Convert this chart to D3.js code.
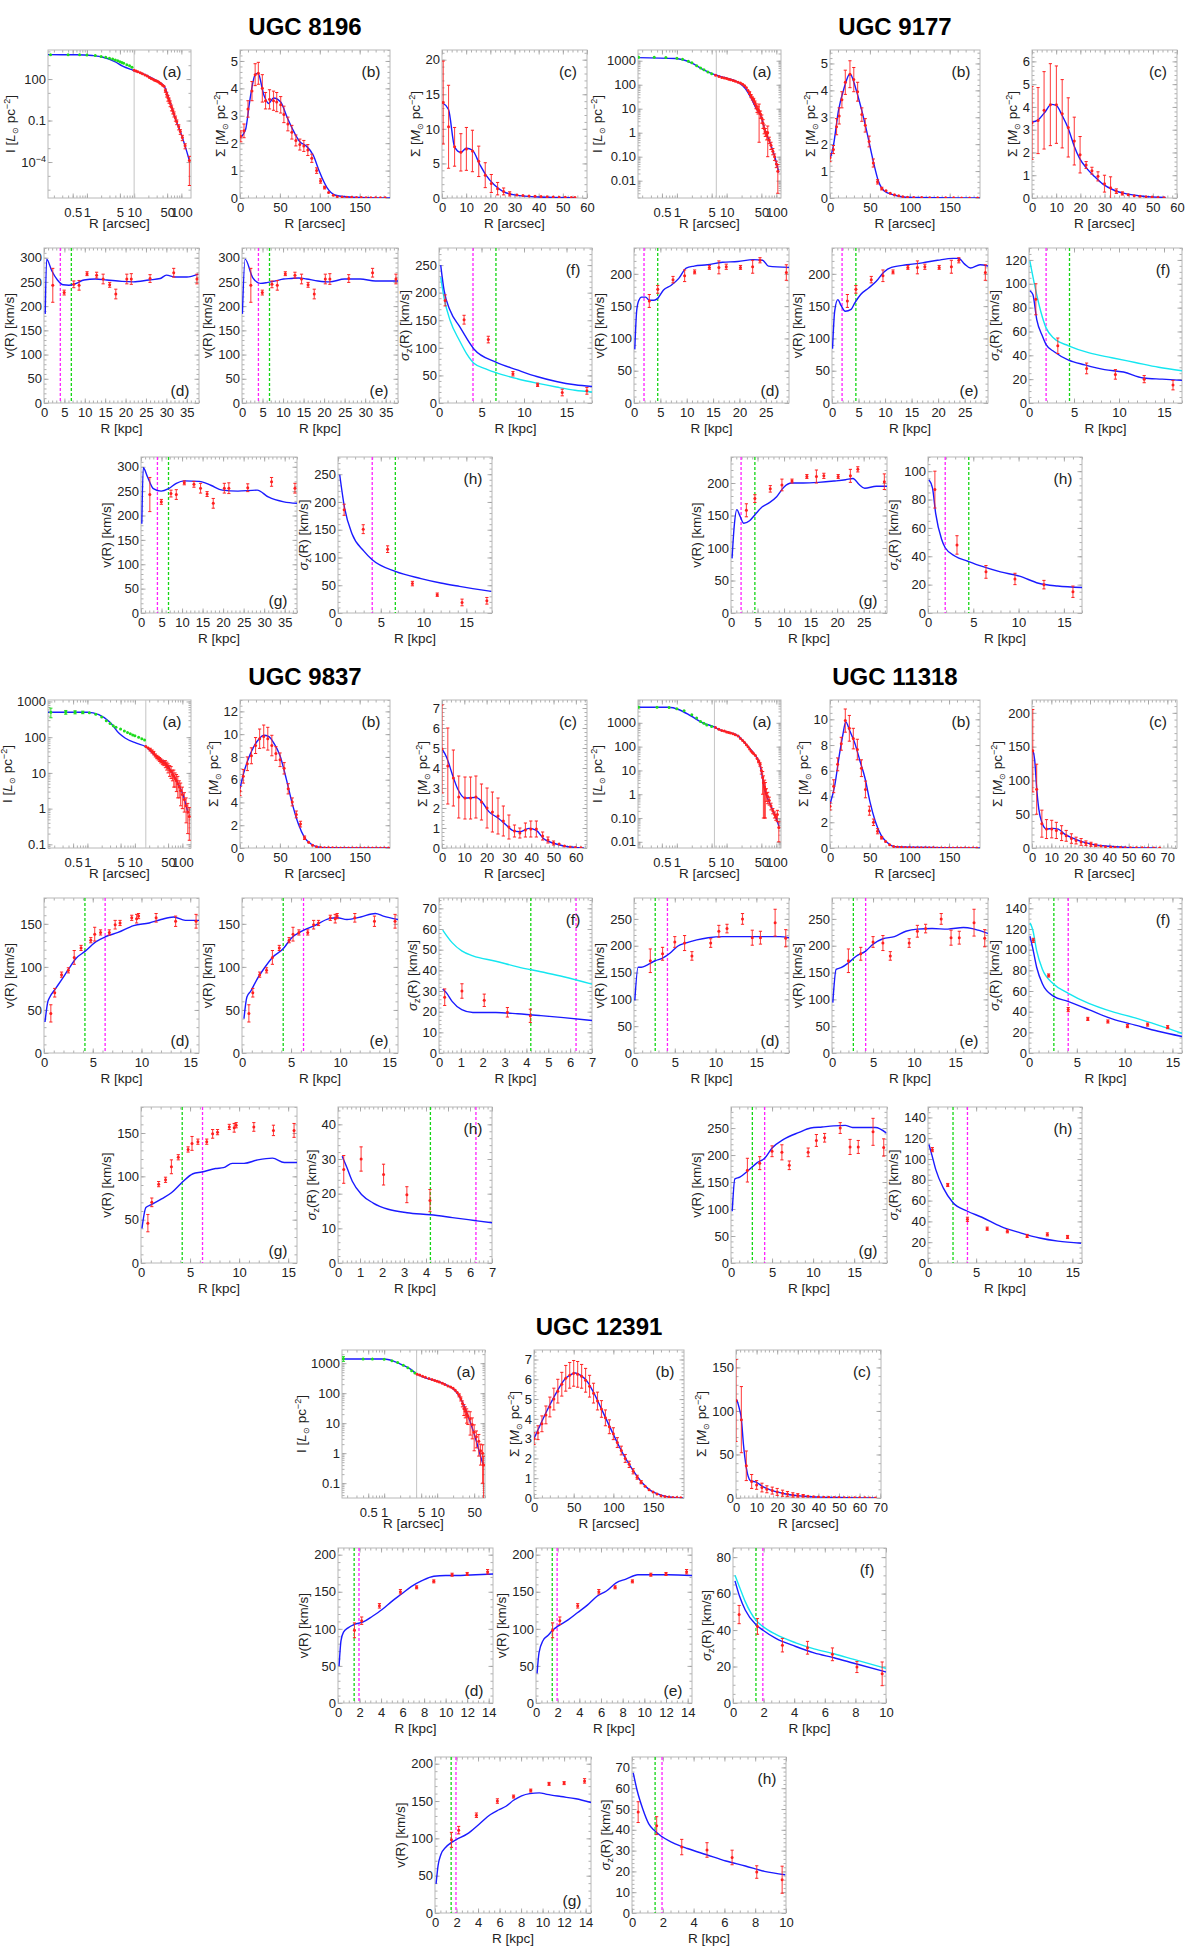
<!DOCTYPE html>
<html>
<head>
<meta charset="utf-8">
<script src="https://cdn.jsdelivr.net/npm/d3@7"></script>
<style>
  body { margin: 0; background: #fff; }
  svg text { font-family: "Liberation Sans", Arial, Helvetica, sans-serif; }
</style>
</head>
<body>
<svg id="fig" width="1200" height="1950"></svg>
<script>
// ---------------- data ----------------
// rows: [R, value, error]   fits: [R, value]

// UGC 8196
const u8196_Igreen = [[0.17,5800,300],[0.4,5800,200],[0.7,5700,150],[1.0,5500,150],[1.5,5000,120],[2,4300,100],[2.5,3700,100],[3,3200,90],[3.5,2800,80],[4,2400,70],[4.5,2100,60],[5,1800,50],[5.5,1600,50],[6,1400,40],[7,1100,35],[8,900,30],[9,700,25]];
const u8196_Ired = [[10,430,15],[11,380,15],[12,330,12],[13.5,280,10],[15,240,10],[17,200,10],[19,165,8],[21,130,8],[23,110,6],[25,95,6],[27,82,6],[29,75,6],[31,68,6],[33,60,6],[35,52,6],[37,45,5],[40,36,5],[43,30,4],[46,15,4],[49,8,3],[52,4.5,2],[55,3,1.2],[58,1.8,0.8],[62,0.9,0.4],[66,0.5,0.2],[70,0.3,0.12],[75,0.15,0.06],[80,0.08,0.03],[88,0.035,0.014],[95,0.016,0.006],[105,0.006,0.0025],[120,0.0015,0.0006],[148,1.3e-4,1.28e-4]];
const u8196_Ifit = [[0.15,5800],[0.6,5750],[1.3,5000],[2.2,3800],[3.9,1800],[5.7,850],[9.5,430],[17,210],[30,76],[43,32],[57,2.4],[75,0.13],[100,0.01],[148,1.3e-4]];
const u8196_SBpts = [[1,2.25,0.2],[5,2.45,0.25],[10,3.25,0.3],[15,3.9,0.35],[19,4.5,0.4],[23,4.55,0.4],[28,4.0,0.5],[32,3.55,0.3],[37,3.6,0.35],[42,3.55,0.35],[46,3.5,0.35],[51,3.4,0.3],[55,3.05,0.3],[60,2.7,0.25],[65,2.4,0.25],[70,2.1,0.2],[75,1.95,0.2],[80,1.9,0.2],[85,1.75,0.2],[90,1.45,0.15],[96,1.0,0.1],[101,0.62,0.08],[106,0.38,0.05],[111,0.2,0.03],[117,0.1,0.02],[122,0.05,0.01],[128,0.04,0],[134,0.03,0],[140,0.025,0],[146,0.02,0],[152,0.015,0],[158,0.012,0],[164,0.01,0],[170,0.008,0],[176,0.006,0],[182,0.005,0]];
const u8196_SBfit = [[0,2.2],[7,2.5],[12,3.5],[19,4.5],[22.5,4.55],[30,3.75],[36,3.45],[42,3.65],[51,3.5],[59,2.95],[67,2.45],[75,2.05],[83,1.9],[92,1.55],[99,1.0],[109,0.38],[120,0.1],[140,0.03],[188,0]];
const u8196_SCpts = [[0.5,13.8,6],[2.7,10.3,6],[5.2,7.4,2.8],[7.8,6.6,2.7],[10.1,7.1,3.1],[12.6,6.8,3],[15.2,5.3,2.2],[17.9,3.3,1.8],[20.4,2.1,1.3],[23,1.35,0.9],[25.5,0.95,0.5],[28,0.6,0.3],[31,0.45,0.15],[33.5,0.35,0.1],[36,0.3,0],[38.5,0.25,0],[41,0.2,0],[43.5,0.18,0],[46,0.15,0],[48.5,0.12,0],[51,0.1,0],[53.5,0.08,0],[55,0.06,0]];
const u8196_SCfit = [[0,13.8],[2.7,12.8],[5.2,7.4],[7.8,6.6],[10.1,7.2],[12.6,6.9],[15.7,4.8],[18.2,3.3],[21.6,1.9],[25,1.0],[30,0.45],[40,0.15],[55,0.05]];
const u8196_v = [[2.15,243,35],[4.95,228,5],[7.3,245,7],[8.6,243,10],[10.55,267,4],[12.9,264,6],[14.5,256,10],[16.1,244,5],[17.6,225,10],[20.3,256,10],[21.4,256,11],[26,257,8],[31.8,269,9],[37.5,256,10]];
const u8196_vD = [[0.3,184],[0.65,297],[1.9,273],[3.3,254],[4.7,244],[6.1,243],[7.9,247],[9.8,254],[12.6,256],[15.4,254],[19.1,251],[21.9,250],[25.7,254],[28.5,257],[30,264],[32.2,260],[35,260],[37.8,266]];
const u8196_vE = [[0.1,184],[0.75,297],[2.6,259],[4.5,247],[6.3,249],[8.2,252],[10.1,256],[12,257],[13.8,258],[15.7,256],[18.5,252],[21.3,250],[25,256],[28.8,256],[32.5,252],[38,252]];
const u8196_vG = [[0.2,183],[0.55,298],[1.6,279],[3,255],[4.9,250],[6.7,255],[8.6,266],[10.5,271],[14.2,270],[17,262],[19.8,252],[23.6,250],[28.3,252],[31,238],[34.8,228],[38,225]];
const u8196_s = [[0.72,186,10],[2.95,151,8],[5.8,115,6],[8.7,53,4],[11.6,33,3],[14.5,19,6],[17.4,22,6]];
const u8196_sF = [[0.2,250],[0.6,204],[1.3,168],[2.45,138],[4.1,98],[6.7,74],[9.2,60],[11.5,48],[13.8,39],[16,33],[18,30]];
const u8196_sFc = [[0.2,228],[0.6,190],[1.3,150],[2.45,112],[3.3,88],[4.1,72],[5.5,62],[6.7,55],[9.2,44],[11.5,36],[13.8,29],[16,23],[18,20]];
const u8196_sH = [[0.2,249],[0.76,190],[1.66,142],[3,112],[4,96],[6.7,75],[9.7,62],[12,54],[14.2,48],[17.9,39]];

// UGC 9177
const u9177_Igreen = [[0.17,1400,60],[0.35,1380,50],[0.6,1350,40],[1.0,1280,40],[1.3,1150,35],[1.7,950,30],[2.0,820,25],[2.5,620,20],[3.0,500,15],[3.5,420,12],[4.2,340,10],[5,290,8]];
const u9177_Ired = [[6,250,8],[7,220,8],[8,200,8],[9,190,8],[10,180,8],[11,170,8],[12,160,8],[13.5,150,8],[15,140,8],[17,128,8],[19,118,8],[21,105,8],[23,90,8],[25,75,8],[27,58,6],[29,45,6],[31,34,5],[33,27,4],[35,23,4],[37,18,3],[39,13,3],[41,10,3],[43,9,3],[45,8,7.6],[48,6,2],[51,4,1.5],[54,2.5,1],[57,1.5,0.6],[60,1.1,0.4],[64,0.8,0.3],[67,1.0,0.9],[72,0.5,0.15],[78,0.3,0.1],[85,0.17,0.05],[92,0.1,0.03],[100,0.05,0.015],[107,0.025,0.022]];
const u9177_Ifit = [[0.165,1350],[0.95,1230],[1.95,810],[3.3,436],[5.75,263],[9.8,190],[17,126],[24,68],[31.6,26],[40,9.5],[48,5.5],[59,1.3],[78,0.3],[93,0.1],[112,0.022]];
const u9177_SBpts = [[0,1.5,0.15],[4.3,1.8,0.15],[8.2,2.65,0.3],[11.5,3.05,0.3],[14.9,3.65,0.3],[19.2,4.3,0.45],[25,4.6,0.5],[29.8,4.4,0.45],[34.6,3.95,0.35],[39.9,3.1,0.25],[44.2,2.7,0.25],[49,2.1,0.2],[54.3,1.3,0.15],[59.6,0.6,0.08],[64.9,0.35,0.05],[70.2,0.27,0.04],[75.5,0.18,0.03],[80.8,0.12,0.02],[86.1,0.08,0],[91.3,0.05,0],[97.1,0.03,0],[105,0.02,0],[115,0.015,0],[125,0.01,0],[135,0.008,0],[145,0.006,0],[155,0.005,0],[165,0.004,0],[175,0.003,0],[185,0.002,0]];
const u9177_SBfit = [[0,1.45],[4.3,1.95],[10.6,3.25],[17.8,4.1],[25,4.62],[32,4.1],[39.4,3.3],[46.6,2.4],[53.8,1.42],[61,0.6],[68,0.26],[80,0.11],[95,0.03],[189,0]];
const u9177_SCpts = [[0,3.3,1.6],[2.5,3.4,1.45],[5,3.85,1.7],[7.6,4.1,1.8],[10.1,4.1,1.7],[12.5,3.7,1.5],[15,3.1,1.3],[17.5,2.5,1.05],[19.9,1.9,0.8],[22.4,1.45,0.15],[24.8,1.2,0.15],[27.3,0.95,0.2],[30,0.63,0.37],[32.5,0.45,0.48],[34.9,0.3,0.1],[37.4,0.2,0.07],[39.8,0.14,0.05],[42.3,0.1,0.03],[44.7,0.08,0.02],[47.2,0.06,0.02],[49.7,0.04,0],[52.1,0.02,0],[54.6,0.01,0]];
const u9177_SCfit = [[0,3.33],[2.4,3.42],[5.5,3.79],[7.9,4.11],[10,4.07],[12.6,3.6],[15,3.05],[17.4,2.3],[19.7,1.74],[22.9,1.27],[26,0.93],[29.2,0.62],[34,0.34],[38.7,0.19],[45,0.09],[55.3,0.02]];
const u9177_v = [[2.9,158,10],[4.5,176,6],[7.4,191,5],[9.6,197,9],[11.5,203,3],[14.3,210,3],[16.1,210,10],[17.5,211,4],[20.2,210,3],[22.5,211,10],[23.9,221,4],[28.9,202,12]];
const u9177_vD = [[0.15,83],[0.5,142],[0.87,158],[1.45,164],[2.2,164],[2.9,159],[3.8,159],[4.5,162],[5.6,175],[7,182],[8.5,193],[9.9,209],[11.4,212],[13.9,214],[16.8,218],[19.7,219],[22.6,222],[24.4,221],[25.5,212],[29.4,210]];
const u9177_vE = [[0.1,84],[0.5,142],[1.1,160],[1.7,151],[2.5,142],[3.6,145],[4.3,155],[5.4,168],[6.9,178],[8.3,188],[9.8,203],[11.2,210],[14.1,214],[17,217],[19.9,221],[22.8,224],[23.9,224],[25,215],[26.1,209],[27.9,214],[29.4,212]];
const u9177_vG = [[0.2,84],[0.6,133],[1.1,159],[1.7,149],[2.4,138],[3.5,142],[4.6,152],[5.7,162],[7.1,169],[8.6,179],[10,194],[11.4,200],[13.6,200],[16.5,201],[19.4,203],[21.6,205],[23,207],[24.1,198],[25.2,192],[27.4,195],[29.4,195]];
const u9177_s = [[0.76,87,13],[3.2,48,6.5],[6.4,29,4.5],[9.6,24,4],[12.8,20,3],[16,15,4]];
const u9177_sF = [[0.1,94],[0.43,91],[0.86,70],[1.5,56],[1.9,49],[2.8,43],[4.4,36],[6.2,32],[8.4,28],[10.5,26],[12.7,21],[14.8,20],[17,19]];
const u9177_sFc = [[0.1,119],[0.65,98],[1.3,77],[1.9,63],[2.8,54],[4.4,48],[6.7,42],[9.2,38],[11.8,34],[14.4,30],[17,27]];
const u9177_sH = [[0.1,94],[0.5,88],[0.85,70],[1.5,52],[1.9,46],[3,40],[4.4,36.5],[5.9,33],[8,29],[10.1,26],[12.2,21],[14.3,19],[17,18]];

// UGC 9837
const u9837_Igreen = [[0.17,500,150],[0.35,500,60],[0.55,500,50],[0.8,495,40],[1.1,480,30],[1.5,440,25],[2,370,20],[2.5,290,15],[3,240,12],[3.5,210,10],[4,190,10],[5,170,8],[6,150,8],[7,135,6],[8,125,6],[9,115,6],[10,110,5],[12,100,5],[14,90,5],[16,83,5]];
const u9837_Ired = [[17,55,4],[19,50,4],[21,45,4],[23,40,4],[25,36,4],[27,31,3],[29,28,3],[31,26,3],[33,24,3],[35,22,3],[38,20,3],[41,19,3],[44,18,4],[47,16,4],[50,14,4],[54,12,4],[58,11,4],[62,9,3],[66,8,4],[70,7,3],[75,6,3],[80,5,3],[86,4,2],[92,3.2,2],[100,2.5,1.5],[110,1.8,1],[120,1.2,0.8],[130,0.8,0.6],[140,0.6,0.47]];
const u9837_Ifit = [[0.148,500],[1,500],[1.74,427],[3,263],[4.7,126],[6.2,95],[10.7,68],[17,54],[27,30],[47,17],[74,6.3],[105,2.3],[132,0.74]];
const u9837_SBpts = [[0,5.0,0.4],[4.1,6.3,0.6],[9.2,7.4,0.6],[14.3,8.1,0.7],[19.5,9.0,0.7],[24.6,9.6,0.85],[29.7,9.8,1.0],[34.8,9.6,1.0],[39.9,9.0,0.9],[45,8.3,0.6],[50.2,7.75,0.6],[55.3,7.0,0.5],[60.4,5.2,0.45],[65.5,4.05,0.35],[70.6,2.95,0.3],[75.8,2.1,0.25],[80.9,0.9,0.15],[86,0.5,0.1],[91,0.25,0.05],[96,0.1,0],[101,0.05,0],[106,0.03,0],[111,0.02,0],[116,0.015,0],[121,0.01,0],[126,0.01,0],[131,0.008,0],[136,0.008,0],[141,0.006,0],[146,0.006,0],[151,0.005,0],[156,0.005,0],[161,0.004,0],[166,0.004,0],[171,0.003,0],[176,0.003,0],[181,0.002,0],[186,0.002,0]];
const u9837_SBfit = [[0,5.2],[4.1,6.45],[9.2,7.6],[16.9,8.85],[24.6,9.65],[29.7,9.9],[35.8,9.8],[42.5,9.2],[50.2,8.1],[57.9,6.1],[65.5,3.9],[73.2,2.1],[80.9,0.92],[88.6,0.37],[96.3,0.11],[106,0.02],[188,0]];
const u9837_SCpts = [[0,4.95,2.2],[2.6,4.1,1.9],[5.1,3.5,1.4],[7.5,2.55,1.05],[10.3,2.5,1.05],[12.8,2.5,1.05],[15.2,2.55,1.05],[17.7,2.3,0.9],[20.2,2.0,1.0],[22.6,1.8,1.0],[25.1,1.6,0.9],[27.5,1.35,0.75],[30,1.05,0.6],[32.5,0.85,0.3],[34.9,0.75,0.25],[37.4,0.9,0.35],[39.8,0.95,0.4],[42.3,0.95,0.4],[45.1,0.6,0.2],[47.5,0.4,0.15],[50,0.25,0.1],[52.5,0.2,0.05],[54.9,0.1,0.03],[57.4,0.05,0],[59.8,0.03,0],[62.3,0.01,0]];
const u9837_SCfit = [[0,4.95],[2.1,4.53],[4.6,3.69],[7,2.96],[10.3,2.5],[15.2,2.53],[17.7,2.34],[21,1.82],[25.1,1.5],[28.4,1.19],[31.6,0.88],[34.9,0.81],[39,0.98],[42.3,0.88],[45.6,0.46],[49.7,0.25],[54.6,0.1],[61.1,0.02],[63.6,0]];
const u9837_v = [[0.7,46,10],[1.1,70,5],[1.8,91,3],[2.5,96,3],[3.1,111,8],[3.8,122,3],[4.8,131,3],[5.2,138,8],[5.8,140,3],[6.7,140,3],[7.3,149,5],[7.8,151,3],[9,157,3],[9.5,156,5],[9.7,159,3],[11.5,157,5],[13.5,153,6],[15.6,153,8]];
const u9837_vD = [[0.1,36],[0.4,60],[0.6,65],[1.2,75],[1.8,85],[2.5,97],[3.3,110],[4.2,118],[5.3,129],[6.3,135],[7.6,140],[9.2,148],[10.8,151],[12,155],[13.3,158],[14.5,154],[15.9,154]];
const u9837_vE = [[0.2,40],[0.5,65],[0.9,72],[1.5,85],[2.3,99],[3.1,111],[4.2,121],[5,133],[6.2,142],[7.4,148],[8.9,156],[9.7,157],[10.7,155],[12.1,158],[13.6,162],[14.4,159],[15.9,155]];
const u9837_vG = [[0.1,40],[0.5,64],[1,67],[2.1,74],[3.1,81],[4.1,92],[5.3,103],[6.2,105],[7.6,109],[8.4,110],[9.3,115],[10.5,115],[11.9,119],[13.4,121],[14.6,116],[15.9,116]];
const u9837_s = [[0.26,27,4],[1.05,30,3.5],[2.07,25.5,3],[3.13,19.7,2.3],[4.18,18,3.2]];
const u9837_sF = [[0.17,31],[0.35,29],[0.6,25],[1.04,21],[1.55,19.6],[2.6,19.6],[3.6,19],[4.66,18.1],[5.7,17.1],[7,15.7]];
const u9837_sFc = [[0.17,59.5],[0.6,53.4],[1.04,49.4],[1.55,47],[2.6,44.4],[3.6,41.7],[4.66,39.3],[5.7,36.9],[7,33.3]];
const u9837_sH = [[0.19,30.8],[0.4,27.6],[0.65,23.6],[1.08,19.7],[1.6,17.3],[2.28,15.5],[3.14,14.5],[4.2,13.9],[5.2,13.1],[6.28,12.2],[7,11.6]];

// UGC 11318
const u11318_Igreen = [[0.17,4500,200],[0.4,4500,150],[0.7,4400,120],[1.0,3900,100],[1.4,3200,80],[2,2200,60],[2.5,1600,50],[3,1150,40],[3.5,950,30],[4,820,25],[5,700,20]];
const u11318_Ired = [[6,640,20],[7,540,20],[8,480,15],[9,450,15],[10,415,12],[11,395,12],[12,375,10],[13.5,345,10],[15,315,10],[17,280,10],[19,220,10],[21,180,8],[23,148,8],[25,120,8],[27,98,6],[29,80,6],[31,65,5],[33,56,5],[35,50,5],[38,42,3],[41,32,3],[44,24,3],[47,18,3],[50,10,3],[53,5,4],[55,3,2.9],[58,2,1.9],[60,1.6,1.5],[63,1.1,0.6],[67,0.8,0.4],[72,0.55,0.2],[78,0.32,0.1],[85,0.2,0.05],[92,0.14,0.04],[98,0.11,0.03],[105,0.14,0.07],[112,0.04,0.03]];
const u11318_Ifit = [[0.166,4500],[0.66,4500],[1.12,3550],[1.95,1900],[3.3,1000],[5.75,660],[6.9,525],[11.7,390],[17,282],[26,110],[38,42],[46,20],[59,1.4],[78,0.32],[98,0.107],[112,0.046]];
const u11318_SBpts = [[0,3.25,0.3],[4.6,4.8,0.5],[9.6,6.5,0.5],[14.2,8.1,0.5],[19.3,9.9,0.9],[24.4,9.3,1.0],[29.4,8.5,0.8],[34.5,7.65,0.8],[39.6,6.2,0.65],[44.7,4.55,0.65],[49.7,2.9,0.35],[54.8,2.0,0.25],[59.9,1.3,0.2],[65,0.8,0.1],[70,0.5,0.08],[75.1,0.25,0.05],[80.2,0.12,0.03],[85,0.08,0],[90,0.05,0],[95,0.04,0],[100,0.03,0],[105,0.02,0],[110,0.02,0],[115,0.015,0],[120,0.012,0],[125,0.01,0],[130,0.01,0],[135,0.008,0],[140,0.008,0],[145,0.006,0],[150,0.006,0],[155,0.005,0],[160,0.005,0],[165,0.004,0],[170,0.004,0],[175,0.003,0],[180,0.003,0],[185,0.002,0]];
const u11318_SBfit = [[0,3.4],[6.1,4.9],[11.2,7.0],[16.2,8.8],[19.8,9.8],[24.9,9.1],[31.5,8.1],[37.6,6.8],[44.2,5.4],[50.3,3.6],[56.9,2.1],[64.5,0.98],[72.1,0.42],[82.2,0.1],[189,0]];
const u11318_SCpts = [[0.4,144,61],[2.4,87,37],[5.1,36,20],[7.5,28,14],[10.2,28,13],[12.6,26,12],[15.3,22,11],[17.7,18,8],[20.4,14,7],[22.8,11,5],[25.4,9,5],[27.9,7,3.5],[30.5,5.5,3],[33,4,2],[35.6,3,1.3],[38,2,1],[40.7,1.5,0.7],[43,1,0.5],[45.8,0.7,0],[48.2,0.5,0],[51,0.4,0],[54,0.3,0],[57,0.2,0],[60,0.15,0],[63,0.1,0],[66,0.08,0]];
const u11318_SCfit = [[0.4,145],[1.4,130],[2.4,89],[3.5,58],[5.1,38],[7.5,28],[10.6,29],[13.6,28],[16.7,21],[20.8,15],[25.8,9.4],[32,5],[40,2.5],[50,0.6],[64.5,0]];
const u11318_v = [[2.0,172,22],[3.5,185,12],[5.0,207,10],[6.2,205,14],[7.1,181,8],[9.4,205,8],[10.4,227,11],[11.4,232,8],[13.3,250,10],[14.5,215,14],[15.5,215,12],[17.3,243,25],[18.6,214,16]];
const u11318_vD = [[0.1,98],[0.5,160],[0.9,160],[1.6,164],[2.6,172],[3.5,177],[4.4,186],[5.35,199],[6.3,205],[7.7,211],[9.1,215],[10.9,217],[12.8,217],[14.7,217],[16.5,217],[17.9,217],[19,215]];
const u11318_vE = [[0.1,94],[0.5,156],[1.1,159],[2,168],[2.9,180],[4.1,190],[5,203],[6.2,213],[7.6,217],[9,227],[10.4,231],[12.2,232],[14.1,231],[16,234],[17.1,232],[17.8,229],[19,223]];
const u11318_vG = [[0.15,96],[0.47,156],[1.07,159],[2,170],[3.2,186],[4.1,194],[5,213],[6.4,229],[8.3,242],[9.7,250],[11.1,252],[12.5,254],[13.9,255],[14.8,251],[16.7,251],[17.6,251],[18.9,241]];
const u11318_s = [[0.45,109,2],[2.05,75,1.5],[4.1,42,2],[6.15,33,1.5],[8.25,30.5,1.5],[10.3,26,1.5],[12.4,27.5,1.5],[14.5,25,1.5]];
const u11318_sF = [[0.1,113],[0.4,101],[0.8,83],[1.4,67],[2.54,55],[4.07,50],[6.25,42],[8.7,33],[11.1,27],[13.5,21],[16,16]];
const u11318_sFc = [[0.1,126],[0.4,119],[0.8,99],[1.4,81],[2.54,67],[4.07,58],[6.25,48],[8.7,40],[11.1,34],[13.5,27],[16,19]];
const u11318_sH = [[0.1,114],[0.4,104],[0.8,90],[1.6,72],[2.6,58],[4.06,50],[5.6,44],[7.6,35],[9.6,29],[11.6,24],[13.5,21],[15.9,19]];

// UGC 12391
const u12391_Igreen = [[0.17,1400,250],[0.4,1380,60],[0.6,1370,50],[1.0,1350,40],[1.4,1200,35],[1.8,1050,30],[2.3,850,25],[2.8,700,20],[3.3,560,15],[3.8,470,12]];
const u12391_Ired = [[4.2,430,15],[4.7,400,15],[5.3,370,15],[6,340,12],[7,310,12],[8,285,12],[9,265,10],[10,250,10],[11,235,10],[12.5,215,10],[14,195,10],[16,175,10],[18,160,10],[20,145,10],[22,125,10],[24,105,10],[26,85,10],[28,65,10],[30,45,10],[32,30,12],[34,25,10],[36,20,10],[38,17,8],[42,14,10],[46,9,6],[50,5,3.8],[55,3.5,2],[61,2.5,1.7],[66,1.2,0.8],[72,1.0,0.9],[75,0.4,0.39]];
const u12391_Ifit = [[0.16,1380],[1.0,1380],[1.5,1175],[2.3,850],[3.2,620],[4.1,436],[6.2,316],[10.2,250],[15.5,182],[21,129],[27.5,68],[35.5,25],[44.7,8],[55,2.5],[67.6,0.68],[74,0.41]];
const u12391_SBpts = [[0,3.0,0.3],[5,3.3,0.35],[10,3.75,0.4],[15,4.2,0.45],[20,4.6,0.5],[25,5.0,0.55],[30,5.4,0.6],[35,5.75,0.6],[40,6.05,0.65],[45,6.2,0.65],[50,6.3,0.65],[55,6.25,0.65],[60,6.15,0.6],[65,5.95,0.6],[70,5.65,0.55],[75,5.3,0.5],[80,4.9,0.45],[85,4.5,0.42],[90,4.05,0.4],[95,3.6,0.35],[100,3.25,0.3],[105,2.8,0.25],[110,2.4,0.22],[115,2.0,0.2],[120,1.7,0.16],[125,1.35,0.13],[130,1.05,0.1],[135,0.8,0.08],[140,0.6,0.06],[145,0.42,0.05],[150,0.3,0.04],[155,0.2,0.03],[160,0.12,0.02],[165,0.08,0],[170,0.05,0],[175,0.03,0],[180,0.02,0],[185,0.01,0]];
const u12391_SBfit = [[0,3.0],[8.8,3.78],[18.6,4.6],[28.4,5.34],[38.2,5.97],[45.6,6.22],[52,6.32],[57.8,6.22],[67.6,5.86],[77.5,5.14],[87.3,4.3],[97,3.47],[106.9,2.64],[116.7,1.91],[126.5,1.29],[136.3,0.77],[146,0.4],[155.9,0.21],[165.7,0.08],[178,0.02],[188,0]];
const u12391_SCpts = [[0,112,47],[2.6,90,38],[5,37,17],[7.6,19,8],[10,15,5],[12.6,12,5],[15,10,4],[17.6,8.5,4],[20,7,4],[22.6,5.5,3.5],[25,4.5,3],[27.6,3.5,2.5],[30,3,2],[32.6,2.5,1.5],[35,2,1],[37.6,1.5,0.8],[40,1.2,0.6],[42.6,1,0.5],[45,0.8,0],[47.6,0.6,0],[50,0.5,0],[52.6,0.4,0],[55,0.3,0],[57.6,0.25,0],[60,0.2,0],[62.6,0.15,0],[65,0.1,0],[67.6,0.05,0]];
const u12391_SCfit = [[0.4,113],[1.6,103],[2.6,91],[3.6,62],[5,35],[7,20],[10,18],[13,13],[17,9],[22,5.8],[27,3.4],[33,2],[41,1],[51,0.5],[61,0.2],[68,0]];
const u12391_v = [[1.53,98,10],[2.2,111,5],[3.85,131,3],[5.8,150,3],[7.3,156,2],[8.9,164,2],[10.6,173,2],[12,174,2],[13.9,177,3]];
const u12391_vD = [[0.1,50],[0.28,84],[0.53,96],[0.9,101],[1.53,106],[2.3,109],[3.2,117],[4.1,126],[5,137],[5.9,147],[6.8,157],[7.8,165],[8.9,171],[10,172],[11.4,172],[12.8,173],[14.4,174]];
const u12391_vE = [[0.1,40],[0.28,68],[0.64,84],[1.1,91],[1.53,98],[2.07,104],[2.96,112],[3.85,122],[4.74,132],[5.63,144],[6.5,151],[7.4,162],[8.3,167],[9.4,173],[10.8,173],[12.2,173],[14.4,172]];
const u12391_vG = [[0.1,39],[0.29,64],[0.54,78],[1.0,88],[1.48,94],[1.95,98],[3,106],[4.1,119],[5.16,132],[5.9,138],[6.6,143],[7.3,151],[8.05,157],[8.8,160],[9.7,161],[10.4,159],[11.7,156],[13.1,153],[14.5,148]];
const u12391_s = [[0.4,48.5,5],[1.6,42,4.3],[3.23,31.7,3.7],[4.87,30.3,3.5],[6.5,26.7,3.5],[8.1,19.7,3],[9.75,16,6.5]];
const u12391_sF = [[0.13,67],[0.43,58.5],[0.8,51],[1.49,43],[1.94,40],[2.8,35.4],[4.1,31],[5.3,27.5],[6.6,24.8],[7.9,21.8],[10,17]];
const u12391_sFc = [[0.13,70],[0.43,63.5],[0.8,55.6],[1.49,45.5],[1.94,42],[2.8,37.6],[4.1,33],[5.3,29.7],[6.6,27],[7.9,23.9],[10,19]];
const u12391_sH = [[0.08,67.4],[0.33,59],[0.7,50],[1.08,43],[1.41,40],[1.88,37],[2.6,34],[3.6,31],[4.85,28],[6.1,25],[7.36,22.6],[8.6,20],[9.95,18.4]];

// tick labels
const logXTicks = [0.5, 1, 5, 10, 50, 100];
const logXTicksShort = [0.5, 1, 5, 10, 50];
const yA_8196 = [100, 0.1, 1e-4], yA_8196_lab = ["100", "0.1", "10^−4"];
const yA_6 = [1000, 100, 10, 1, 0.1, 0.01], yA_6_lab = ["1000", "100", "10", "1", "0.10", "0.01"];
const yA_5 = [1000, 100, 10, 1, 0.1], yA_5_lab = ["1000", "100", "10", "1", "0.1"];

// ---------------- layout ----------------
const BOX = {
  a: [48, 50, 191, 198], b: [240, 50, 390, 198], c: [442, 50, 587, 198],
  d: [44, 248, 199, 403], e: [242, 248, 398, 403], f: [439, 248, 592, 403],
  g: [141, 457, 297, 613], h: [338, 457, 492, 613]
};
const TAG_TOP = { a: 1, b: 1, c: 1, f: 1, h: 1 };
const COL = { r: "#ff1f1f", g: "#1fdc1f", b: "#1a1aff", c: "#14e6f0", m: "#ff1fff", gd: "#12d612", gray: "#c4c4c4" };
const rng = (a, b, s) => d3.range(a, b + s / 2, s);

function gal(name, off, p) { return { name, off, p }; }

const GALAXIES = [
  gal("UGC 8196", [0, 0], {
    a: { xlog: 1, ylog: 1, xd: [0.15, 160], yd: [2.5e-7, 1.26e4], xt: logXTicks, yt: yA_8196, ytl: yA_8196_lab, yev: 3,
         pts: [[u8196_Igreen, "g"], [u8196_Ired, "r"]], fits: [[u8196_Ifit, "b"]], vl: [[10, "gray"]] },
    b: { xd: [0, 188], yd: [0, 5.4], xt: [0, 50, 100, 150], yt: rng(0, 5, 1), pts: [[u8196_SBpts, "r"]], fits: [[u8196_SBfit, "b"]] },
    c: { xd: [0, 60], yd: [0, 21.4], xt: rng(0, 60, 10), yt: rng(0, 20, 5), pts: [[u8196_SCpts, "r"]], fits: [[u8196_SCfit, "b"]] },
    d: { xd: [0, 38], yd: [0, 320], xt: rng(0, 35, 5), yt: rng(0, 300, 50), pts: [[u8196_v, "r"]], fits: [[u8196_vD, "b"]] },
    e: { xd: [0, 38], yd: [0, 320], xt: rng(0, 35, 5), yt: rng(0, 300, 50), pts: [[u8196_v, "r"]], fits: [[u8196_vE, "b"]] },
    f: { xd: [0, 18], yd: [0, 281], xt: rng(0, 15, 5), yt: rng(0, 250, 50), pts: [[u8196_s, "r"]], fits: [[u8196_sFc, "c"], [u8196_sF, "b"]] },
    g: { xd: [0, 38], yd: [0, 320], xt: rng(0, 35, 5), yt: rng(0, 300, 50), pts: [[u8196_v, "r"]], fits: [[u8196_vG, "b"]] },
    h: { xd: [0, 18], yd: [0, 281], xt: rng(0, 15, 5), yt: rng(0, 250, 50), pts: [[u8196_s, "r"]], fits: [[u8196_sH, "b"]] },
    lines: [[4.0, "m"], [6.7, "gd"]]
  }),
  gal("UGC 9177", [590, 0], {
    a: { xlog: 1, ylog: 1, xd: [0.165, 124], yd: [0.0019, 2800], xt: logXTicks, yt: yA_6, ytl: yA_6_lab, yev: 1,
         pts: [[u9177_Igreen, "g"], [u9177_Ired, "r"]], fits: [[u9177_Ifit, "b"]], vl: [[6.2, "gray"]] },
    b: { xd: [0, 188], yd: [0, 5.5], xt: [0, 50, 100, 150], yt: rng(0, 5, 1), pts: [[u9177_SBpts, "r"]], fits: [[u9177_SBfit, "b"]] },
    c: { xd: [0, 60], yd: [0, 6.5], xt: rng(0, 60, 10), yt: rng(0, 6, 1), pts: [[u9177_SCpts, "r"]], fits: [[u9177_SCfit, "b"]] },
    d: { xd: [0, 29.4], yd: [0, 240], xt: rng(0, 25, 5), yt: rng(0, 200, 50), pts: [[u9177_v, "r"]], fits: [[u9177_vD, "b"]] },
    e: { xd: [0, 29.4], yd: [0, 240], xt: rng(0, 25, 5), yt: rng(0, 200, 50), pts: [[u9177_v, "r"]], fits: [[u9177_vE, "b"]] },
    f: { xd: [0, 17], yd: [0, 130], xt: rng(0, 15, 5), yt: rng(0, 120, 20), pts: [[u9177_s, "r"]], fits: [[u9177_sFc, "c"], [u9177_sF, "b"]] },
    g: { xd: [0, 29.4], yd: [0, 240], xt: rng(0, 25, 5), yt: rng(0, 200, 50), pts: [[u9177_v, "r"]], fits: [[u9177_vG, "b"]] },
    h: { xd: [0, 17], yd: [0, 110], xt: rng(0, 15, 5), yt: rng(0, 100, 20), pts: [[u9177_s, "r"]], fits: [[u9177_sH, "b"]] },
    lines: [[1.9, "m"], [4.5, "gd"]]
  }),
  gal("UGC 9837", [0, 650], {
    a: { xlog: 1, ylog: 1, xd: [0.148, 152], yd: [0.079, 1100], xt: logXTicks, yt: yA_5, ytl: yA_5_lab, yev: 1,
         pts: [[u9837_Igreen, "g"], [u9837_Ired, "r"]], fits: [[u9837_Ifit, "b"]], vl: [[17, "gray"]] },
    b: { xd: [0, 188], yd: [0, 13], xt: [0, 50, 100, 150], yt: rng(0, 12, 2), pts: [[u9837_SBpts, "r"]], fits: [[u9837_SBfit, "b"]] },
    c: { xd: [0, 65], yd: [0, 7.4], xt: rng(0, 60, 10), yt: rng(0, 7, 1), pts: [[u9837_SCpts, "r"]], fits: [[u9837_SCfit, "b"]] },
    d: { xd: [0, 15.9], yd: [0, 180], xt: rng(0, 15, 5), yt: rng(0, 150, 50), pts: [[u9837_v, "r"]], fits: [[u9837_vD, "b"]] },
    e: { xd: [0, 15.9], yd: [0, 180], xt: rng(0, 15, 5), yt: rng(0, 150, 50), pts: [[u9837_v, "r"]], fits: [[u9837_vE, "b"]] },
    f: { xd: [0, 7], yd: [0, 75], xt: rng(0, 7, 1), yt: rng(0, 70, 10), pts: [[u9837_s, "r"]], fits: [[u9837_sFc, "c"], [u9837_sF, "b"]] },
    g: { xd: [0, 15.9], yd: [0, 180], xt: rng(0, 15, 5), yt: rng(0, 150, 50), pts: [[u9837_v, "r"]], fits: [[u9837_vG, "b"]] },
    h: { xd: [0, 7], yd: [0, 45], xt: rng(0, 7, 1), yt: rng(0, 40, 10), pts: [[u9837_s, "r"]], fits: [[u9837_sH, "b"]] },
    lines: [[4.2, "gd"], [6.27, "m"]]
  }),
  gal("UGC 11318", [590, 650], {
    a: { xlog: 1, ylog: 1, xd: [0.166, 124], yd: [0.0055, 9100], xt: logXTicks, yt: yA_6, ytl: yA_6_lab, yev: 1,
         pts: [[u11318_Igreen, "g"], [u11318_Ired, "r"]], fits: [[u11318_Ifit, "b"]], vl: [[5.7, "gray"]] },
    b: { xd: [0, 189], yd: [0, 11.5], xt: [0, 50, 100, 150], yt: rng(0, 10, 2), pts: [[u11318_SBpts, "r"]], fits: [[u11318_SBfit, "b"]] },
    c: { xd: [0, 75], yd: [0, 219], xt: rng(0, 70, 10), yt: rng(0, 200, 50), pts: [[u11318_SCpts, "r"]], fits: [[u11318_SCfit, "b"]] },
    d: { xd: [0, 19], yd: [0, 289], xt: rng(0, 15, 5), yt: rng(0, 250, 50), pts: [[u11318_v, "r"]], fits: [[u11318_vD, "b"]] },
    e: { xd: [0, 19], yd: [0, 289], xt: rng(0, 15, 5), yt: rng(0, 250, 50), pts: [[u11318_v, "r"]], fits: [[u11318_vE, "b"]] },
    f: { xd: [0, 16], yd: [0, 150], xt: rng(0, 15, 5), yt: rng(0, 140, 20), pts: [[u11318_s, "r"]], fits: [[u11318_sFc, "c"], [u11318_sF, "b"]] },
    g: { xd: [0, 19], yd: [0, 289], xt: rng(0, 15, 5), yt: rng(0, 250, 50), pts: [[u11318_v, "r"]], fits: [[u11318_vG, "b"]] },
    h: { xd: [0, 16], yd: [0, 150], xt: rng(0, 15, 5), yt: rng(0, 140, 20), pts: [[u11318_s, "r"]], fits: [[u11318_sH, "b"]] },
    lines: [[2.6, "gd"], [4.1, "m"]]
  }),
  gal("UGC 12391", [294, 1300], {
    a: { xlog: 1, ylog: 1, xd: [0.16, 80], yd: [0.032, 2750], xt: logXTicksShort, yt: yA_5, ytl: yA_5_lab, yev: 1,
         pts: [[u12391_Igreen, "g"], [u12391_Ired, "r"]], fits: [[u12391_Ifit, "b"]], vl: [[4.1, "gray"]] },
    b: { xd: [0, 189], yd: [0, 7.48], xt: [0, 50, 100, 150], yt: rng(0, 7, 1), pts: [[u12391_SBpts, "r"]], fits: [[u12391_SBfit, "b"]] },
    c: { xd: [0, 70.4], yd: [0, 170], xt: rng(0, 70, 10), yt: rng(0, 150, 50), pts: [[u12391_SCpts, "r"]], fits: [[u12391_SCfit, "b"]] },
    d: { xd: [0, 14.4], yd: [0, 209], xt: rng(0, 14, 2), yt: rng(0, 200, 50), pts: [[u12391_v, "r"]], fits: [[u12391_vD, "b"]] },
    e: { xd: [0, 14.4], yd: [0, 209], xt: rng(0, 14, 2), yt: rng(0, 200, 50), pts: [[u12391_v, "r"]], fits: [[u12391_vE, "b"]] },
    f: { xd: [0, 10], yd: [0, 85], xt: rng(0, 10, 2), yt: rng(0, 80, 20), pts: [[u12391_s, "r"]], fits: [[u12391_sFc, "c"], [u12391_sF, "b"]] },
    g: { xd: [0, 14.5], yd: [0, 209], xt: rng(0, 14, 2), yt: rng(0, 200, 50), pts: [[u12391_v, "r"]], fits: [[u12391_vG, "b"]] },
    h: { xd: [0, 10], yd: [0, 75], xt: rng(0, 10, 2), yt: rng(0, 70, 10), pts: [[u12391_s, "r"]], fits: [[u12391_sH, "b"]] },
    lines: [[1.5, "gd"], [1.95, "m"]]
  })
];

const YLAB = { a: "I", b: "S", c: "S", d: "v", e: "v", f: "s", g: "v", h: "s" };
const KPC_PANELS = "defgh";

// ---------------- drawing ----------------
const svg = d3.select("#fig");
let clipN = 0;

function linMinor(dom, major) {
  const st = major[1] - major[0];
  const s = st === 2 ? 0.5 : st === 20 ? 5 : st / 5;
  return d3.range(Math.ceil(dom[0] / s - 1e-9), Math.floor(dom[1] / s + 1e-9) + 1).map(i => +(i * s).toFixed(6));
}
function logMinor(dom, every) {
  const out = [];
  const k0 = Math.floor(Math.log10(dom[0])), k1 = Math.ceil(Math.log10(dom[1]));
  for (let k = k0; k <= k1; k++) {
    const js = every === 3 ? [1] : [1, 2, 3, 4, 5, 6, 7, 8, 9];
    js.forEach(j => { const v = j * Math.pow(10, k); if (v >= dom[0] && v <= dom[1]) out.push(v); });
  }
  return out;
}

function yLabel(t, kind) {
  if (kind === "v") { t.text("v(R) [km/s]"); return; }
  if (kind === "s") {
    t.append("tspan").attr("font-style", "italic").text("σ");
    t.append("tspan").attr("font-size", 9).attr("dy", 3).text("z");
    t.append("tspan").attr("dy", -3).text("(R) [km/s]");
    return;
  }
  t.append("tspan").text(kind === "I" ? "I [" : "Σ [");
  t.append("tspan").attr("font-style", "italic").text(kind === "I" ? "L" : "M");
  t.append("tspan").attr("font-size", 8).attr("dy", 3).text("⊙");
  t.append("tspan").attr("dy", -3).text(" pc");
  t.append("tspan").attr("font-size", 9).attr("dy", -5).text("−2");
  t.append("tspan").attr("dy", 5).text("]");
}

function styleAxis(sel) {
  sel.select(".domain").remove();
  sel.selectAll(".tick line").attr("stroke", "#9a9a9a").attr("stroke-width", 0.8);
  sel.selectAll(".tick text").attr("fill", "#222").attr("font-size", 13)
    .attr("font-family", '"Liberation Sans", Arial, sans-serif');
  sel.selectAll(".tick text").each(function () {
    const s = this.textContent;
    if (s.indexOf("^") >= 0) {
      const [b, e] = s.split("^");
      const t = d3.select(this).text(b);
      t.append("tspan").attr("font-size", 9).attr("dy", -5).text(e);
    }
  });
}

function drawPanel(root, key, p, lines) {
  const [x0, y0, x1, y1] = BOX[key];
  const g = root.append("g");
  const x = (p.xlog ? d3.scaleLog() : d3.scaleLinear()).domain(p.xd).range([x0, x1]);
  const y = (p.ylog ? d3.scaleLog() : d3.scaleLinear()).domain(p.yd).range([y1, y0]);
  const id = "clip" + (clipN++);
  g.append("clipPath").attr("id", id).append("rect")
    .attr("x", x0).attr("y", y0).attr("width", x1 - x0).attr("height", y1 - y0);

  const xMinor = p.xlog ? logMinor(p.xd, 1) : linMinor(p.xd, p.xt);
  const yMinor = p.ylog ? logMinor(p.yd, p.yev) : linMinor(p.yd, p.yt);
  const fmtX = d => String(d);
  const fmtY = p.ytl ? (d, i) => p.ytl[i] : d => String(d);
  const none = () => "";

  // minor ticks on the four sides
  g.append("g").attr("transform", `translate(0,${y1})`).call(d3.axisBottom(x).tickValues(xMinor).tickSize(-2.5).tickFormat(none)).call(styleAxis);
  g.append("g").attr("transform", `translate(0,${y0})`).call(d3.axisTop(x).tickValues(xMinor).tickSize(-2.5).tickFormat(none)).call(styleAxis);
  g.append("g").attr("transform", `translate(${x0},0)`).call(d3.axisLeft(y).tickValues(yMinor).tickSize(-2.5).tickFormat(none)).call(styleAxis);
  g.append("g").attr("transform", `translate(${x1},0)`).call(d3.axisRight(y).tickValues(yMinor).tickSize(-2.5).tickFormat(none)).call(styleAxis);
  // major ticks
  g.append("g").attr("transform", `translate(0,${y1})`)
    .call(d3.axisBottom(x).tickValues(p.xt).tickSize(-4.5).tickPadding(p.xlog ? 9.5 : 4.5).tickFormat(fmtX)).call(styleAxis);
  g.append("g").attr("transform", `translate(0,${y0})`).call(d3.axisTop(x).tickValues(p.xt).tickSize(-4.5).tickFormat(none)).call(styleAxis);
  const yl = g.append("g").attr("transform", `translate(${x0},0)`)
    .call(d3.axisLeft(y).tickValues(p.yt).tickSize(-4.5).tickPadding(2).tickFormat(fmtY)).call(styleAxis);
  g.append("g").attr("transform", `translate(${x1},0)`).call(d3.axisRight(y).tickValues(p.yt).tickSize(-4.5).tickFormat(none)).call(styleAxis);

  g.append("rect").attr("x", x0).attr("y", y0).attr("width", x1 - x0).attr("height", y1 - y0)
    .attr("fill", "none").attr("stroke", "#b8b8b8").attr("stroke-width", 1);

  // axis titles
  g.append("text").attr("x", (x0 + x1) / 2).attr("y", y1 + 30).attr("text-anchor", "middle")
    .attr("font-size", 13.5).attr("fill", "#222").text(KPC_PANELS.includes(key) ? "R [kpc]" : "R [arcsec]");
  let wmax = 0;
  yl.selectAll(".tick text").each(function () { wmax = Math.max(wmax, this.getBBox().width); });
  const yt = g.append("text").attr("text-anchor", "middle").attr("font-size", 13.5).attr("fill", "#222")
    .attr("transform", `translate(${Math.max(x0 - wmax - 8, 12)},${(y0 + y1) / 2}) rotate(-90)`);
  yLabel(yt, YLAB[key]);

  const plot = g.append("g").attr("clip-path", `url(#${id})`);

  // vertical markers: gray line in (a), dashed radius markers in the kpc panels
  const vls = key === "a" ? p.vl : (KPC_PANELS.includes(key) ? lines : []);
  vls.forEach(([xv, c]) => {
    plot.append("line").attr("x1", x(xv)).attr("x2", x(xv)).attr("y1", y0).attr("y2", y1)
      .attr("stroke", COL[c]).attr("stroke-width", c === "gray" ? 1 : 1.3)
      .attr("stroke-dasharray", c === "gray" ? null : "3,2");
  });

  // model curves
  const line = d3.line().x(d => x(d[0])).y(d => y(d[1])).curve(d3.curveMonotoneX);
  p.fits.forEach(([data, c]) => {
    plot.append("path").datum(data).attr("d", line).attr("fill", "none")
      .attr("stroke", COL[c]).attr("stroke-width", 1.4);
  });

  // data with error bars
  const ymin = p.yd[0];
  p.pts.forEach(([data, c]) => {
    const col = COL[c];
    const gp = plot.append("g");
    data.forEach(([r, v, e]) => {
      const lo = p.ylog ? Math.max(v - e, ymin * 0.5) : v - e;
      const ya = y(v + e), yb = y(lo), xx = x(r);
      if (e > 0) {
        gp.append("line").attr("x1", xx).attr("x2", xx).attr("y1", ya).attr("y2", yb)
          .attr("stroke", col).attr("stroke-width", 1.1).attr("opacity", 0.8);
        if (Math.abs(yb - ya) > 2.5) {
          [ya, yb].forEach(yy => gp.append("line").attr("x1", xx - 1.6).attr("x2", xx + 1.6)
            .attr("y1", yy).attr("y2", yy).attr("stroke", col).attr("stroke-width", 1));
        }
      }
      gp.append("circle").attr("cx", xx).attr("cy", y(v)).attr("r", 1.5).attr("fill", col);
    });
  });

  // panel tag
  const top = TAG_TOP[key];
  g.append("text").attr("x", x1 - 19).attr("y", top ? y0 + 27 : y1 - 7).attr("text-anchor", "middle")
    .attr("font-size", 15.5).attr("fill", "#222").text(`(${key})`);
}

GALAXIES.forEach(G => {
  const root = svg.append("g").attr("transform", `translate(${G.off[0]},${G.off[1]})`);
  root.append("text").attr("x", 305).attr("y", 35).attr("text-anchor", "middle")
    .attr("font-size", 24).attr("font-weight", "bold").attr("fill", "#000").text(G.name);
  ["a", "b", "c", "d", "e", "f", "g", "h"].forEach(k => drawPanel(root, k, G.p[k], G.p.lines));
});
</script>
</body>
</html>
